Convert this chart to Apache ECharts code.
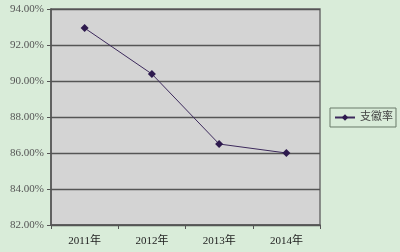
<!DOCTYPE html>
<html><head><meta charset="utf-8">
<script src="https://cdn.jsdelivr.net/npm/echarts@6/dist/echarts.min.js"></script>
<style>html,body{margin:0;padding:0;background:#d9ecd9;}#c{width:400px;height:252px;}</style>
</head><body><div id="c"></div>
<script>
const categories = ['2011年','2012年','2013年','2014年'];
const values = [92.94, 90.39, 86.5, 86.0];
const seriesName = '支徽率';
const yMin = 82, yMax = 94, yStep = 2;

const chart = echarts.init(document.getElementById('c'));
const font = '"Liberation Serif", "Noto Sans CJK SC", serif';
chart.setOption({
  backgroundColor: '#d9ecd9',
  animation: false,
  grid: {left: 51, right: 80, top: 9, bottom: 27, show: true, backgroundColor: '#d4d4d4', borderColor: '#6e6e6e', borderWidth: 1.5},
  legend: {
    show: true, left: 330, top: 108, orient: 'vertical',
    data: [{name: seriesName}],
    itemWidth: 20, itemHeight: 8, itemGap: 2, padding: [4, 3, 4, 4],
    borderColor: '#6a7a6a', borderWidth: 1,
    textStyle: {fontFamily: font, fontSize: 11, color: '#444'}
  },
  xAxis: {
    type: 'category', data: categories, boundaryGap: true,
    axisLine: {lineStyle: {color: '#555', width: 1.5}},
    axisTick: {show: true, length: 4, lineStyle: {color: '#555'}},
    axisLabel: {fontFamily: font, fontSize: 11, color: '#222', margin: 11}
  },
  yAxis: {
    type: 'value', min: yMin, max: yMax, interval: yStep,
    axisLine: {show: true, lineStyle: {color: '#555', width: 1.5}},
    axisTick: {show: true, length: 4, lineStyle: {color: '#555'}},
    splitLine: {lineStyle: {color: '#555', width: 1.3}},
    axisLabel: {fontFamily: font, fontSize: 11, color: '#555', margin: 7,
      formatter: v => v.toFixed(2) + '%'}
  },
  series: [{
    name: seriesName, type: 'line', data: values,
    symbol: 'diamond', symbolSize: 8,
    lineStyle: {color: '#3d2a5c', width: 1},
    itemStyle: {color: '#2e1a4e'}
  }]
});
</script></body></html>
